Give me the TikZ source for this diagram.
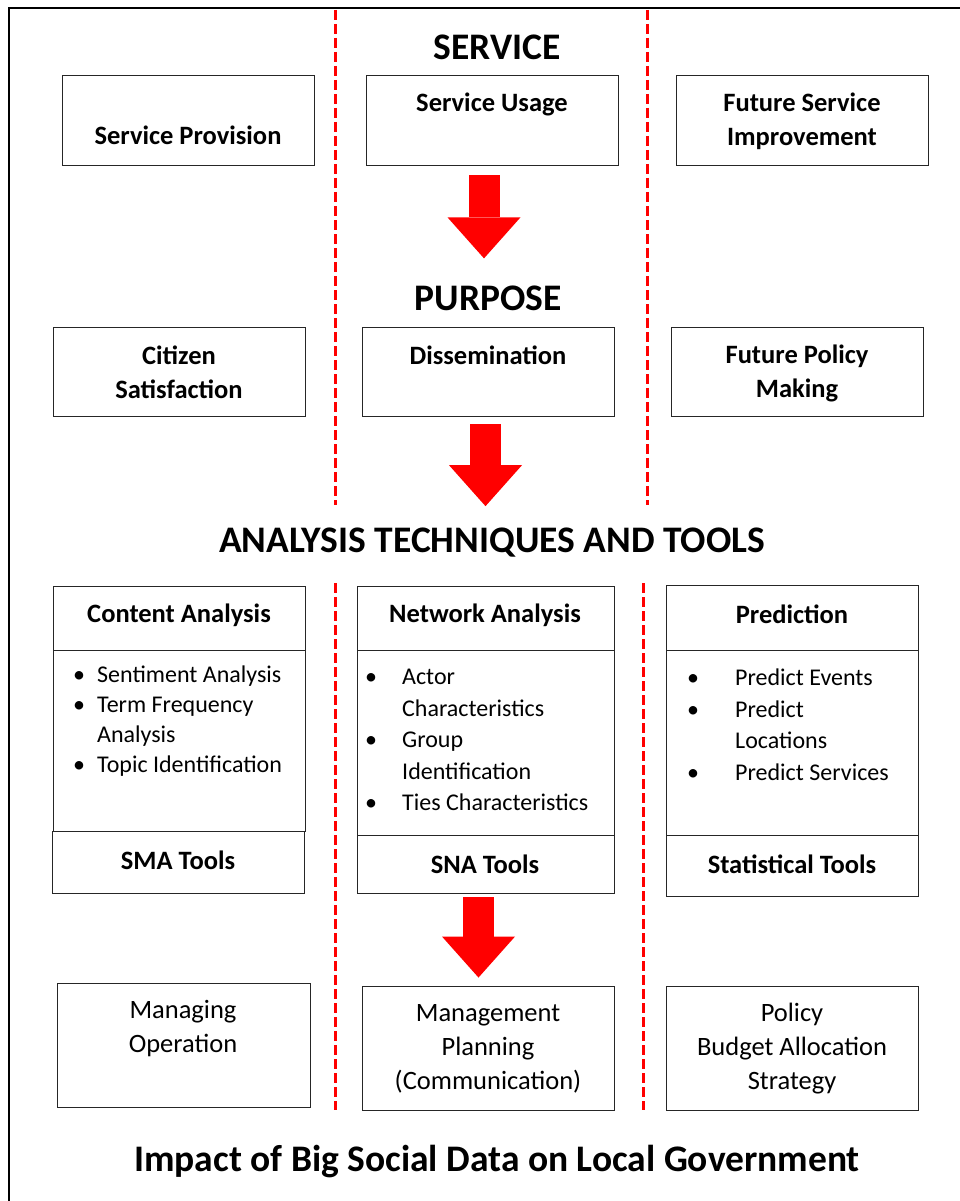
\documentclass[tikz,border=0pt]{standalone}
\usepackage{fontspec}
\setmainfont{Carlito}
\usepackage{tikz}
\usetikzlibrary{arrows.meta}

\newcommand{\bl}[1]{\makebox[#1][l]{\textbullet}}

\begin{document}
\begin{tikzpicture}[x=1pt,y=-1pt,
	box/.style={draw=black!85,line width=0.9pt,inner sep=0pt},
	bold/.style={font=\fontsize{26.5}{34}\selectfont\bfseries,align=center,inner sep=0pt},
	plain/.style={font=\fontsize{26.5}{34}\selectfont,align=center,inner sep=0pt},
	title/.style={font=\fontsize{37.5}{40}\selectfont\bfseries,inner sep=0pt},
	list/.style={font=\fontsize{24}{31.5}\selectfont,align=left,anchor=north west,inner sep=0pt},
	divider/.style={red,line width=3pt,dash pattern=on 10pt off 4pt},
	bigarrow/.style={red,line width=31pt,-{Triangle[length=41pt,width=73pt,line width=0pt]}}]
	\useasboundingbox (0,0) rectangle (960,1201);
	\draw[line width=2pt] (9,1201) -- (9,8) -- (960,8);
	
	\draw[divider] (335,10) -- (335,505);
	\draw[divider] (647,10) -- (647,505);
	\draw[divider] (335,583) -- (335,1110);
	\draw[divider] (643,583) -- (643,1110);
	
	% service
	\node[title] (service) at (497,47) {SERVICE};
	\node[box,minimum width=252pt,minimum height=90pt] (prov) at (188,120) {};
	\node[box,minimum width=252pt,minimum height=90pt] (usage) at (492,120) {};
	\node[box,minimum width=252pt,minimum height=90pt] (improve) at (802,120) {};
	\node[bold] (provt) at (188,135) {Service Provision};
	\node[bold] (usaget) at (492,104) {Service Usage};
	\node[bold] (improvet) at (802,121) {Future Service\\Improvement};
	
	% purpose
	\node[title] (purpose) at (488,298) {PURPOSE};
	\node[box,minimum width=252pt,minimum height=89pt] (citizen) at (179,371.5) {};
	\node[box,minimum width=252pt,minimum height=89pt] (dissem) at (488,371.5) {};
	\node[box,minimum width=252pt,minimum height=89pt] (policy) at (797,371.5) {};
	\node[bold] (citizent) at (179,372) {Citizen\\Satisfaction};
	\node[bold] (dissemt) at (488,355) {Dissemination};
	\node[bold] (policyt) at (797,373) {Future Policy\\Making};
	
	% analysis techniques
	\node[title] (analysis) at (492,543) {ANALYSIS TECHNIQUES AND TOOLS};
	\node[box,minimum width=252pt,minimum height=64pt] (cahead) at (179,618) {};
	\node[box,minimum width=252pt,minimum height=181pt] (cabody) at (179,740.5) {};
	\node[box,minimum width=252pt,minimum height=62pt] (catool) at (178,862) {};
	\node[box,minimum width=257pt,minimum height=64pt] (nahead) at (485.5,618) {};
	\node[box,minimum width=257pt,minimum height=185pt] (nabody) at (485.5,742.5) {};
	\node[box,minimum width=257pt,minimum height=58pt] (natool) at (485.5,864) {};
	\node[box,minimum width=252pt,minimum height=65pt] (prhead) at (792,617.5) {};
	\node[box,minimum width=252pt,minimum height=185pt] (prbody) at (792,742.5) {};
	\node[box,minimum width=252pt,minimum height=61pt] (prtool) at (792,865.5) {};
	\node[bold] (caheadt) at (179,615) {Content Analysis};
	\node[bold] (naheadt) at (485,615) {Network Analysis};
	\node[bold] (prheadt) at (792,614) {Prediction};
	\node[bold] (catoolt) at (178,860) {SMA Tools};
	\node[bold] (natoolt) at (485,864) {SNA Tools};
	\node[bold] (prtoolt) at (792,864) {Statistical Tools};
	\node[list,font=\fontsize{24}{30}\selectfont] (calist) at (73,666) {\bl{24pt}Sentiment Analysis\\\bl{24pt}Term Frequency\\\hspace*{24pt}Analysis\\\bl{24pt}Topic Identification};
	\node[list] (nalist) at (365,669) {\bl{37pt}Actor\\\hspace*{37pt}Characteristics\\\bl{37pt}Group\\\hspace*{37pt}Identification\\\bl{37pt}Ties Characteristics};
	\node[list] (prlist) at (687,669) {\bl{48pt}Predict Events\\\bl{48pt}Predict\\\hspace*{48pt}Locations\\\bl{48pt}Predict Services};
	
	% impact
	\node[box,minimum width=253pt,minimum height=124pt] (manage) at (183.5,1045) {};
	\node[box,minimum width=252pt,minimum height=124pt] (mgmt) at (488,1048) {};
	\node[box,minimum width=252pt,minimum height=124pt] (budget) at (792,1048) {};
	\node[plain] (managet) at (183,1029) {Managing\\Operation};
	\node[plain] (mgmtt) at (488,1049) {Management\\Planning\\(Communication)};
	\node[plain] (budgett) at (792,1049) {Policy\\Budget Allocation\\Strategy};
	\node[title] (impact) at (497,1162) {Impact of Big Social Data on Local Government};
	
	\draw[bigarrow] ([xshift=-8pt,yshift=-10pt]usage.south) -- ([xshift=-4pt,yshift=27pt]purpose.north);
	\draw[bigarrow] ([xshift=-2.5pt,yshift=-8pt]dissem.south) -- ([xshift=-6.5pt,yshift=22pt]analysis.north);
	\draw[bigarrow] ([xshift=-7pt,yshift=-4pt]natool.south) -- ([xshift=-9.5pt,yshift=8pt]mgmt.north);
\end{tikzpicture}
\end{document}
